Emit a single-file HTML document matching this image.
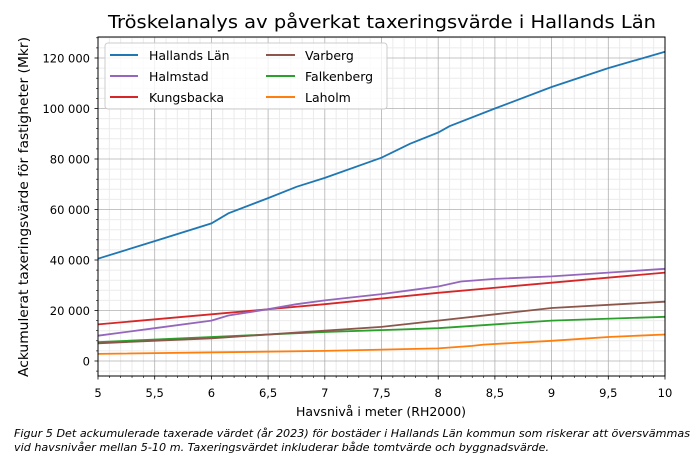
<!DOCTYPE html>
<html><head><meta charset="utf-8"><style>body{margin:0;background:#fff}svg{display:block}text{font-family:"DejaVu Sans","Liberation Sans",sans-serif;fill:#000}</style></head><body>
<svg width="700" height="459" viewBox="0 0 700 459" xmlns="http://www.w3.org/2000/svg">
<rect width="700" height="459" fill="#fff"/>
<g id="grid"></g>
<text x="108" y="28" font-size="17.5" textLength="548" lengthAdjust="spacingAndGlyphs">Tröskelanalys av påverkat taxeringsvärde i Hallands Län</text>
<g fill="none" stroke-width="1.8">
<polyline stroke="#ff7f0e" points="98,353.9 324.8,350.9 438.2,348.4 472.2,345.9 483.6,344.6 551.6,340.8 608.3,337 665,334.5"/>
<polyline stroke="#2ca02c" points="98,342.1 211.4,337 324.8,332 438.2,328.2 551.6,320.6 665,316.8"/>
<polyline stroke="#8c564b" points="98,343.3 211.4,338.3 324.8,330.7 381.5,326.9 438.2,320.6 494.9,314.3 551.6,308 665,301.7"/>
<polyline stroke="#d62728" points="98,324.4 211.4,314.3 324.8,304.2 438.2,292.8 551.6,282.7 665,272.6"/>
<polyline stroke="#9467bd" points="98,335.7 154.7,328.2 211.4,320.6 228.4,315.5 268.1,309.2 296.5,304.2 324.8,300.4 381.5,294.1 409.9,290.3 438.2,286.5 460.9,281.5 494.9,278.9 551.6,276.4 608.3,272.6 665,268.8"/>
<polyline stroke="#1f77b4" points="98,258.7 154.7,241.1 211.4,223.4 228.4,213.3 268.1,198.1 296.5,186.8 324.8,177.9 381.5,157.7 409.9,143.8 438.2,132.5 449.5,126.2 494.9,108.5 551.6,87 608.3,68.1 665,51.7"/>
</g>
<rect x="98" y="37" width="567" height="339" fill="none" stroke="#000" stroke-width="1"/>
<g id="ticks"></g>
<rect x="105" y="43" width="282" height="66" rx="3" fill="#fff" fill-opacity="0.8" stroke="#ccc"/>
<g stroke-width="2">
<line x1="110" y1="55" x2="138" y2="55" stroke="#1f77b4"/><line x1="110" y1="76" x2="138" y2="76" stroke="#9467bd"/><line x1="110" y1="97" x2="138" y2="97" stroke="#d62728"/>
<line x1="266" y1="55" x2="295" y2="55" stroke="#8c564b"/><line x1="266" y1="76" x2="295" y2="76" stroke="#2ca02c"/><line x1="266" y1="97" x2="295" y2="97" stroke="#ff7f0e"/>
</g>
<g font-size="12.5">
<text x="149" y="60">Hallands Län</text><text x="149" y="81">Halmstad</text><text x="149" y="102">Kungsbacka</text>
<text x="305" y="60">Varberg</text><text x="305" y="81">Falkenberg</text><text x="305" y="102">Laholm</text>
</g>
<text x="381" y="416" font-size="12.5" text-anchor="middle">Havsnivå i meter (RH2000)</text>
<text transform="translate(28,207) rotate(-90)" font-size="13" text-anchor="middle" textLength="340" lengthAdjust="spacingAndGlyphs">Ackumulerat taxeringsvärde för fastigheter (Mkr)</text>
<text x="14" y="437" font-size="10.5" font-style="italic" textLength="676" lengthAdjust="spacingAndGlyphs">Figur 5 Det ackumulerade taxerade värdet (år 2023) för bostäder i Hallands Län kommun som riskerar att översvämmas</text>
<text x="14" y="451" font-size="10.5" font-style="italic" textLength="535" lengthAdjust="spacingAndGlyphs">vid havsnivåer mellan 5-10 m. Taxeringsvärdet inkluderar både tomtvärde och byggnadsvärde.</text>
</svg>
<script>
var ns="http://www.w3.org/2000/svg",g=document.getElementById("grid"),t=document.getElementById("ticks");
function el(p,n,a){var e=document.createElementNS(ns,n);for(var k in a)e.setAttribute(k,a[k]);p.appendChild(e);return e;}
function X(v){return 98+(v-5)*113.4}function Y(v){return 361-v*0.002525}
for(var i=0;i<=50;i++){var x=X(5+i/10);var maj=i%5==0;
if(!maj)el(g,"line",{x1:x,x2:x,y1:37,y2:376,stroke:"#ebebeb","stroke-width":1});
el(t,"line",{x1:x,x2:x,y1:376,y2:maj?379.5:378,stroke:"#000","stroke-width":maj?0.8:0.6});}
for(var v=-4000;v<=128000;v+=4000){var y=Y(v);var maj=v%20000==0;
if(!maj)el(g,"line",{x1:98,x2:665,y1:y,y2:y,stroke:"#ebebeb","stroke-width":1});
el(t,"line",{x1:98,x2:maj?94.5:96,y1:y,y2:y,stroke:"#000","stroke-width":maj?0.8:0.6});}
for(var i=0;i<=10;i++){var x=X(5+i/2);el(g,"line",{x1:x,x2:x,y1:37,y2:376,stroke:"#b0b0b0","stroke-width":0.8});
var s=(5+i/2).toString().replace(".",",");var tx=el(t,"text",{x:x,y:397,"font-size":11.5,"text-anchor":"middle"});tx.textContent=s;}
for(var v=0;v<=120000;v+=20000){var y=Y(v);el(g,"line",{x1:98,x2:665,y1:y,y2:y,stroke:"#b0b0b0","stroke-width":0.8});
var s=v==0?"0":(v/1000)+" 000";var tx=el(t,"text",{x:90,y:y+4.5,"font-size":11.5,"text-anchor":"end"});tx.textContent=s;}
</script>
</body></html>
